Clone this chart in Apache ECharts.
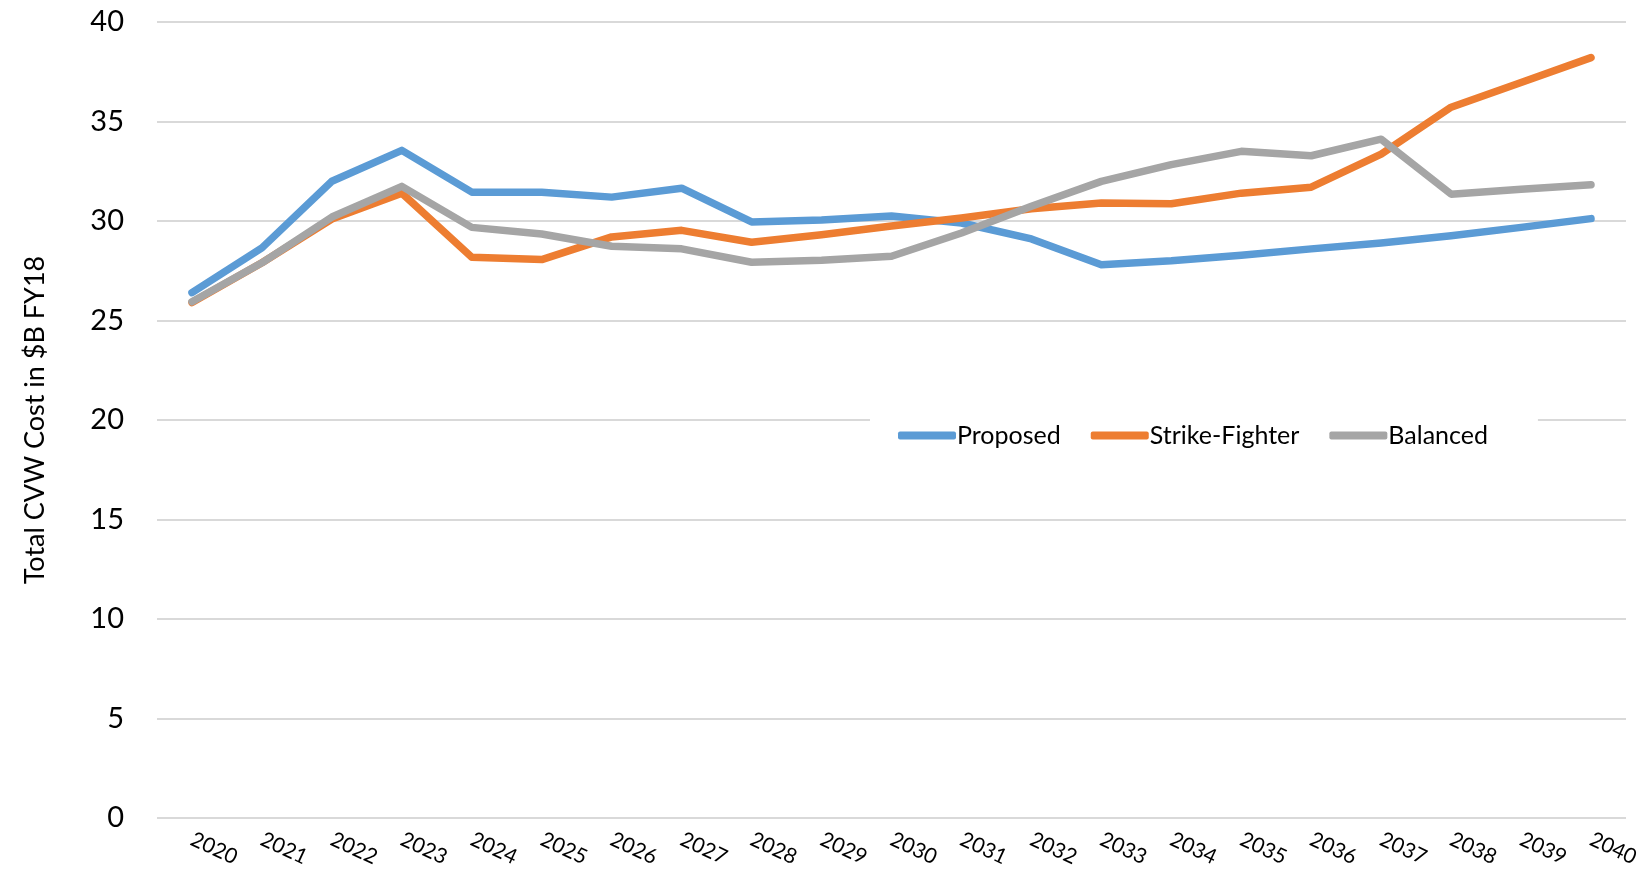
<!DOCTYPE html>
<html>
<head>
<meta charset="utf-8">
<script src="https://cdn.jsdelivr.net/npm/echarts@6/dist/echarts.min.js"></script>
<style>
  html, body { margin: 0; padding: 0; background: #fff; }
  #chart { width: 1643px; height: 873px; }
</style>
</head>
<body>
<div id="chart"></div>
<script>
// 年份
var years = ['2020', '2021', '2022', '2023', '2024', '2025', '2026', '2027', '2028', '2029', '2030',
             '2031', '2032', '2033', '2034', '2035', '2036', '2037', '2038', '2039', '2040'];
// 各方案成本 ($B FY18)
var proposed = [26.4, 28.65, 32.0, 33.55, 31.45, 31.45, 31.2, 31.65, 29.95, 30.05, 30.25,
                29.9, 29.1, 27.8, 28.0, 28.28, 28.6, 28.9, 29.26, 29.68, 30.12];
var strikeFighter = [25.9, 27.9, 30.1, 31.4, 28.18, 28.06, 29.2, 29.53, 28.93, 29.31, 29.75,
                     30.15, 30.62, 30.9, 30.87, 31.4, 31.7, 33.36, 35.72, 36.96, 38.21];
var balanced = [25.94, 27.9, 30.2, 31.74, 29.68, 29.35, 28.73, 28.6, 27.93, 28.03, 28.23,
                29.4, 30.74, 31.99, 32.83, 33.5, 33.28, 34.11, 31.35, 31.6, 31.82];
var yTicks = [0, 5, 10, 15, 20, 25, 30, 35, 40];

var FONT = 'Lato';
var chart = echarts.init(document.getElementById('chart'));

function mkLine(name, data, color) {
    return {
        name: name,
        type: 'line',
        data: data,
        symbol: 'none',
        lineStyle: { color: color, width: 7.5, cap: 'round', join: 'round' },
        itemStyle: { color: color },
        z: 3
    };
}

var option = {
    animation: false,
    backgroundColor: '#fff',
    grid: { left: 157, right: 17, top: 22, bottom: 55 },
    legend: {
        left: 870,
        top: 409,
        padding: [14, 50, 14, 28],
        backgroundColor: '#fff',
        itemGap: 30,
        itemWidth: 58,
        itemHeight: 8,
        icon: 'roundRect',
        textStyle: { fontFamily: FONT, fontSize: 25, color: '#000', padding: [0, 0, 0, -4] },
        z: 10
    },
    xAxis: {
        type: 'category',
        data: years,
        boundaryGap: true,
        axisLine: { show: false },
        axisTick: { show: false },
        axisLabel: {
            rotate: -25,
            margin: 20,
            fontFamily: FONT,
            fontSize: 21,
            color: '#000'
        }
    },
    yAxis: {
        type: 'value',
        min: yTicks[0],
        max: yTicks[yTicks.length - 1],
        interval: 5,
        name: 'Total CVW Cost in $B FY18',
        nameLocation: 'middle',
        nameGap: 108,
        nameRotate: 90,
        nameTextStyle: { fontFamily: FONT, fontSize: 27, color: '#000' },
        axisLine: { show: false },
        axisTick: { show: false },
        axisLabel: { fontFamily: FONT, fontSize: 29, color: '#000', margin: 33 },
        splitLine: { lineStyle: { color: '#d9d9d9', width: 2 } }
    },
    series: [
        mkLine('Proposed', proposed, '#5b9bd5'),
        mkLine('Strike-Fighter', strikeFighter, '#ed7d31'),
        mkLine('Balanced', balanced, '#a5a5a5')
    ]
};

chart.setOption(option);
</script>
</body>
</html>
